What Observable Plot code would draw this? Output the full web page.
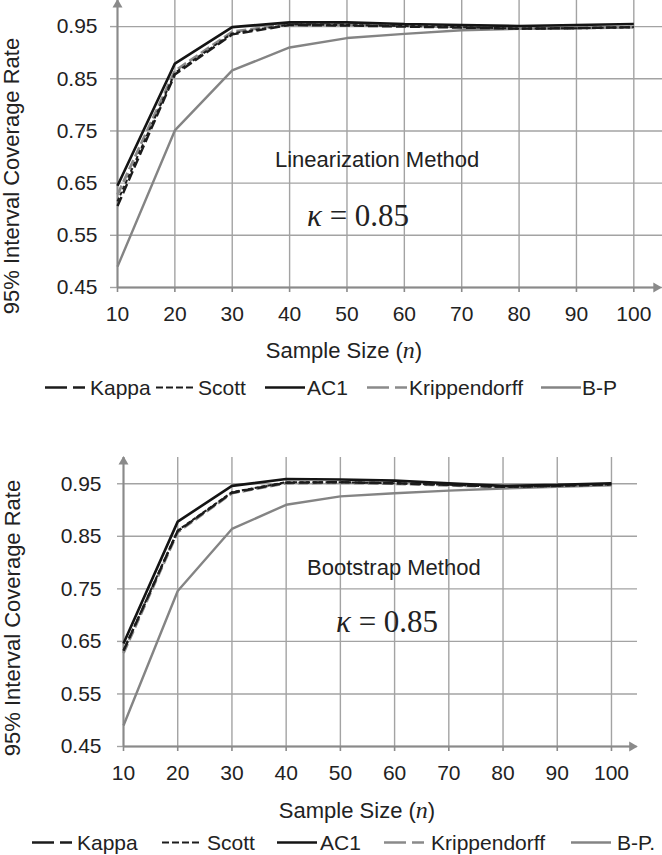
<!DOCTYPE html>
<html><head><meta charset="utf-8">
<script src="https://cdn.jsdelivr.net/npm/d3@7"></script>
<script src="https://cdn.jsdelivr.net/npm/@observablehq/plot@0.6"></script>
<style>
body{margin:0;background:#fff;}
#wrap{position:relative;width:662px;height:855px;overflow:hidden;font-family:"Liberation Sans",Arial,sans-serif;}
#wrap > svg{position:absolute;left:0;}
</style></head><body><div id="wrap"></div>
<script>
// ---- data ----
const sampleSizes = [10, 20, 30, 40, 50, 60, 70, 80, 90, 100];
const yTicks = [0.45, 0.55, 0.65, 0.75, 0.85, 0.95];
const seriesNames = ["Kappa", "Scott", "AC1", "Krippendorff", "B-P"];

// Linearization method
const linKappa = [0.606, 0.858, 0.935, 0.953, 0.952, 0.950, 0.948, 0.946, 0.947, 0.949];
const linScott = [0.615, 0.861, 0.937, 0.954, 0.953, 0.951, 0.949, 0.946, 0.947, 0.949];
const linAC1   = [0.645, 0.879, 0.949, 0.958, 0.958, 0.955, 0.953, 0.951, 0.953, 0.955];
const linKripp = [0.628, 0.865, 0.940, 0.955, 0.954, 0.952, 0.949, 0.946, 0.947, 0.949];
const linBP    = [0.490, 0.751, 0.866, 0.910, 0.928, 0.936, 0.943, 0.946, 0.947, 0.949];

// Bootstrap method
const bootKappa = [0.632, 0.860, 0.933, 0.952, 0.953, 0.951, 0.948, 0.944, 0.946, 0.949];
const bootScott = [0.633, 0.861, 0.934, 0.953, 0.953, 0.951, 0.948, 0.944, 0.946, 0.949];
const bootAC1   = [0.646, 0.878, 0.946, 0.959, 0.958, 0.956, 0.951, 0.946, 0.948, 0.951];
const bootKripp = [0.628, 0.858, 0.932, 0.951, 0.952, 0.950, 0.947, 0.944, 0.946, 0.949];
const bootBP    = [0.490, 0.746, 0.864, 0.910, 0.926, 0.932, 0.937, 0.941, 0.944, 0.947];

const legendTop = ["Kappa", "Scott", "AC1", "Krippendorff", "B-P"];
const legendBottom = ["Kappa", "Scott", "AC1", "Krippendorff", "B-P."];
const methodTop = "Linearization Method";
const methodBottom = "Bootstrap Method";
const yTitle = "95% Interval Coverage Rate";

// ---- styles ----
const style = {
  "Kappa":        {stroke: "#1c1c1c", width: 2.4, dash: "10,4",  legDash: "22,6"},
  "Scott":        {stroke: "#1c1c1c", width: 2.0, dash: "4,2.5", legDash: "7,3"},
  "AC1":          {stroke: "#141414", width: 2.6, dash: null,    legDash: null},
  "Krippendorff": {stroke: "#8a8a8a", width: 2.8, dash: "10,4",  legDash: "22,6"},
  "B-P":          {stroke: "#848484", width: 2.4, dash: null,    legDash: null}
};
const drawOrder = ["B-P", "Krippendorff", "Kappa", "Scott", "AC1"];
const GRID = "#a3a3a3", AXIS = "#8a8a8a", TEXT = "#222";
const FONT = '"Liberation Sans", Arial, sans-serif';

function tidy(arrs) {
  const out = [];
  seriesNames.forEach((s, k) => sampleSizes.forEach((n, i) => out.push({series: s, n, v: arrs[k][i]})));
  return out;
}

function chart(cfg) {
  const data = tidy(cfg.values);
  const marks = [
    Plot.gridY(yTicks, {stroke: GRID, strokeOpacity: 1, strokeWidth: 1.4}),
    Plot.gridX(sampleSizes, {stroke: GRID, strokeOpacity: 1, strokeWidth: 1.4}),
    Plot.axisY(yTicks, {tickSize: cfg.yTickSize, tickPadding: cfg.yTickPad, tickFormat: d3.format(".2f"),
      fontSize: 21, stroke: GRID, strokeWidth: 1.4, fill: TEXT, label: null}),
    Plot.axisX(sampleSizes, {tickSize: 5, tickPadding: 14, fontSize: 21, stroke: AXIS, strokeWidth: 1.6,
      fill: TEXT, label: null}),
    Plot.ruleX([sampleSizes[0]], {stroke: AXIS, strokeWidth: 2}),
    Plot.ruleY([yTicks[0]], {x1: sampleSizes[0], x2: cfg.xArrow, stroke: AXIS, strokeWidth: 2}),
    Plot.dot([0], {x: () => sampleSizes[0], y: () => cfg.yArrow, symbol: "triangle", r: 3.7, fill: AXIS, stroke: null}),
    Plot.dot([0], {x: () => cfg.xArrow, y: () => yTicks[0], symbol: "triangle", r: 3.7, fill: AXIS, stroke: null, rotate: 90})
  ];
  for (const s of drawOrder) {
    const st = style[s];
    marks.push(Plot.line(data.filter(d => d.series === s), {
      x: "n", y: "v", stroke: st.stroke, strokeWidth: st.width,
      strokeDasharray: st.dash || undefined, strokeLinejoin: "miter", strokeLinecap: "butt"
    }));
  }
  const svg = Plot.plot({
    width: 662, height: cfg.height,
    marginLeft: cfg.ml, marginRight: cfg.mr, marginTop: cfg.mt, marginBottom: cfg.mb,
    x: {domain: [sampleSizes[0], cfg.xMax]},
    y: {domain: [yTicks[0], 1.0]},
    style: {fontFamily: FONT, fontSize: "21px", color: TEXT, background: "transparent", overflow: "visible"},
    marks
  });
  svg.style.top = cfg.top + "px";
  return svg;
}

const wrap = document.getElementById("wrap");
wrap.appendChild(chart({
  values: [linKappa, linScott, linAC1, linKripp, linBP],
  top: 0, height: 330, ml: 117, mr: 0, mt: 0, mb: 43, xMax: 105,
  xArrow: 103.9, yArrow: 0.992, yTickSize: 7, yTickPad: 13
}));
wrap.appendChild(chart({
  values: [bootKappa, bootScott, bootAC1, bootKripp, bootBP],
  top: 440, height: 349, ml: 123, mr: 25, mt: 17, mb: 43, xMax: 104.8,
  xArrow: 103.8, yArrow: 0.992, yTickSize: 6, yTickPad: 16
}));

// ---- overlay text: titles, annotations, legends ----
const ov = d3.create("svg").attr("width", 662).attr("height", 855)
  .style("top", "0px").style("pointer-events", "none")
  .attr("font-family", FONT).attr("fill", TEXT);

function yLabel(cx, cy) {
  ov.append("text").attr("transform", `translate(${cx},${cy}) rotate(-90)`)
    .attr("text-anchor", "middle").attr("dominant-baseline", "central")
    .attr("font-size", 22).text(yTitle);
}
function xLabel(cx, by) {
  const t = ov.append("text").attr("x", cx).attr("y", by).attr("text-anchor", "middle").attr("font-size", 22);
  t.append("tspan").text("Sample Size (");
  t.append("tspan").attr("font-family", '"Liberation Serif", "DejaVu Serif", serif').attr("font-style", "italic").attr("font-size", 24).text("n");
  t.append("tspan").text(")");
}
function method(x, by, label) {
  ov.append("text").attr("x", x).attr("y", by).attr("font-size", 22).text(label);
}
function kappa(x, by) {
  const t = ov.append("text").attr("x", x).attr("y", by).attr("font-size", 31)
    .attr("font-family", '"Liberation Serif", "DejaVu Serif", serif');
  t.append("tspan").attr("font-style", "italic").text("κ");
  t.append("tspan").text(" = 0.85");
}
function legend(by, swatchX, textX, labels) {
  seriesNames.forEach((s, i) => {
    const st = style[s];
    ov.append("line").attr("x1", swatchX[i]).attr("x2", swatchX[i] + 40)
      .attr("y1", by - 7.5).attr("y2", by - 7.5)
      .attr("stroke", st.stroke).attr("stroke-width", s === "Scott" ? 2.2 : 2.6)
      .attr("stroke-dasharray", st.legDash);
    ov.append("text").attr("x", textX[i]).attr("y", by).attr("font-size", 21).text(labels[i]);
  });
}

yLabel(11, 176);
xLabel(344, 358);
method(275, 167, methodTop);
kappa(307, 226);
legend(395, [45, 156, 265, 367, 541], [90, 198, 307, 409, 582], legendTop);

yLabel(12, 618);
xLabel(357, 818);
method(307, 575, methodBottom);
kappa(336, 632);
legend(850, [32, 162, 277, 384, 571], [77, 207, 320, 431, 617], legendBottom);

wrap.appendChild(ov.node());
</script></body></html>
